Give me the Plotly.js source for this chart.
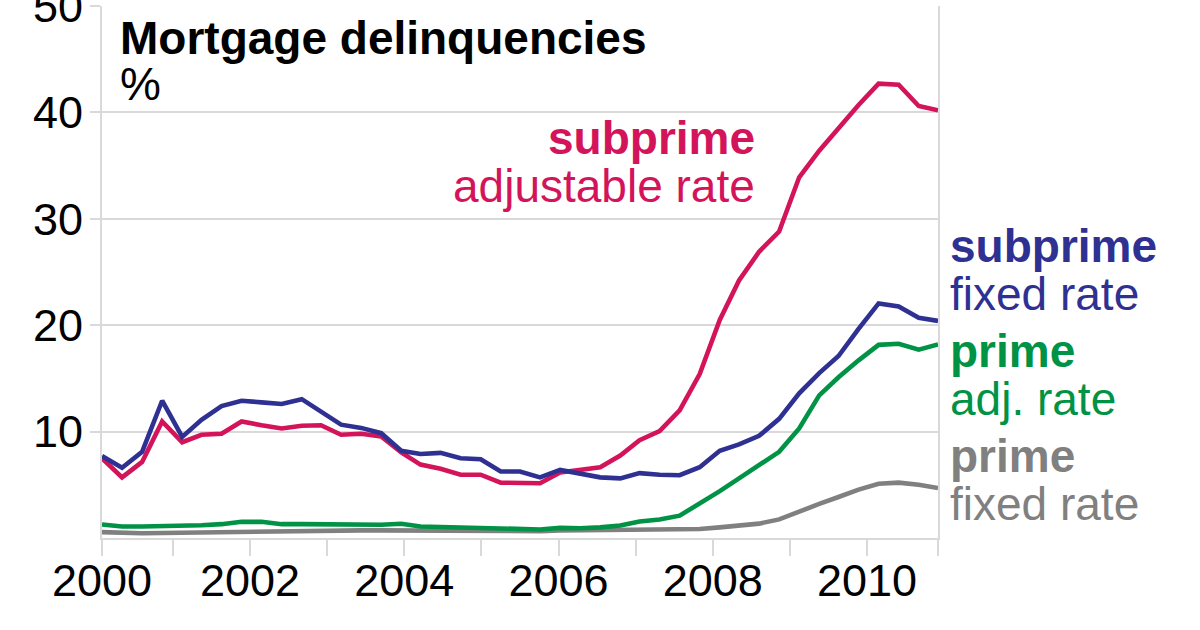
<!DOCTYPE html>
<html>
<head>
<meta charset="utf-8">
<script src="https://cdn.plot.ly/plotly-3.0.1.min.js"></script>
<style>
  html, body { margin: 0; padding: 0; background: #fff; }
  #chart { width: 1200px; height: 630px; }
</style>
</head>
<body>
<div id="chart"></div>
<script>
const periods = [
  2000.08, 2000.34, 2000.60, 2000.86, 2001.12, 2001.37, 2001.63, 2001.89,
  2002.15, 2002.41, 2002.67, 2002.92, 2003.18, 2003.44, 2003.70, 2003.96,
  2004.21, 2004.47, 2004.73, 2004.99, 2005.25, 2005.50, 2005.76, 2006.02,
  2006.28, 2006.54, 2006.80, 2007.05, 2007.31, 2007.57, 2007.83, 2008.09,
  2008.34, 2008.60, 2008.86, 2009.12, 2009.38, 2009.63, 2009.89, 2010.15,
  2010.41, 2010.67, 2010.92
];

// Delinquency rates, %
const subprimeAdjustable = [
  7.5, 5.7, 7.15, 10.95, 9.0, 9.7, 9.8, 10.95, 10.6, 10.3,
  10.55, 10.6, 9.7, 9.8, 9.55, 8.05, 6.9, 6.5, 5.95, 5.95,
  5.2, 5.15, 5.15, 6.15, 6.35, 6.65, 7.75, 9.2, 10.05, 12.0,
  15.4, 20.5, 24.2, 26.9, 28.8, 33.9, 36.4, 38.5, 40.7, 42.7,
  42.6, 40.6, 40.2
];
const subprimeFixed = [
  7.7, 6.6, 8.1, 12.9, 9.5, 11.1, 12.4, 12.9, 12.75, 12.6,
  13.05, 11.9, 10.65, 10.35, 9.85, 8.2, 7.9, 8.0, 7.5, 7.4,
  6.25, 6.25, 5.7, 6.4, 6.0, 5.7, 5.6, 6.1, 5.95, 5.9,
  6.65, 8.2, 8.8, 9.6, 11.2, 13.6, 15.5, 17.1, 19.65, 22.05,
  21.75, 20.7, 20.4
];
const primeAdjustable = [
  1.27, 1.08, 1.08, 1.1, 1.13, 1.2, 1.3, 1.52, 1.52, 1.3,
  1.3, 1.27, 1.34, 1.3, 1.24, 1.34, 1.08, 1.04, 1.0, 0.98,
  0.9, 0.86, 0.8, 0.95, 0.92, 1.0, 1.18, 1.55, 1.74, 2.1,
  3.2, 4.4, 5.6, 6.9, 8.1, 10.3, 13.4, 15.1, 16.7, 18.15,
  18.25, 17.7, 18.2
];
const primeFixed = [
  0.55, 0.45, 0.45, 0.47, 0.5, 0.52, 0.55, 0.6, 0.65, 0.7,
  0.7, 0.72, 0.72, 0.72, 0.72, 0.7, 0.7, 0.68, 0.66, 0.66,
  0.64, 0.64, 0.64, 0.7, 0.72, 0.72, 0.72, 0.72, 0.72, 0.75,
  0.85, 1.0, 1.15, 1.35, 1.75, 2.5, 3.2, 3.85, 4.55, 5.1,
  5.2, 5.0, 4.7
];

// Axis ticks and labels
const xTickYears = [2000, 2002, 2004, 2006, 2008, 2010];
const xTickLabels = ['2000', '2002', '2004', '2006', '2008', '2010'];
const yTickValues = [10, 20, 30, 40, 50];
const yTickLabels = ['10', '20', '30', '40', '50'];

const title = 'Mortgage delinquencies';
const unit = '%';
const seriesLabels = [
  { bold: 'subprime', rest: 'adjustable rate' },
  { bold: 'subprime', rest: 'fixed rate' },
  { bold: 'prime', rest: 'adj. rate' },
  { bold: 'prime', rest: 'fixed rate' }
];

// ---------------------------------------------------------------
const FONT = '"Liberation Sans", Arial, Helvetica, sans-serif';
const C_RED = '#d4145a', C_BLUE = '#2e3192', C_GREEN = '#009245', C_GRAY = '#808080';
const GRID = '#d9d9d9';
const FS = 46;
const TICK_FS = 45;

const xRange = [periods[0], periods[periods.length - 1]];
const xTickVals = xTickYears.map(v => Math.max(v, xRange[0])).concat([xRange[1]]);
const xTickText = xTickLabels.concat(['']);

function lineTrace(y, color) {
  return {
    type: 'scatter', mode: 'lines', x: periods, y: y,
    line: { color: color, width: 4.6, shape: 'linear' },
    hoverinfo: 'skip', showlegend: false, cliponaxis: false
  };
}

const data = [
  lineTrace(primeFixed, C_GRAY),
  lineTrace(primeAdjustable, C_GREEN),
  lineTrace(subprimeAdjustable, C_RED),
  lineTrace(subprimeFixed, C_BLUE)
];

function ann(text, x, y, xanchor, color, bold) {
  return {
    xref: 'paper', yref: 'paper', x: x, y: y,
    xanchor: xanchor, yanchor: 'middle', showarrow: false,
    text: bold ? '<b>' + text + '</b>' : text,
    font: { family: FONT, size: FS, color: color }
  };
}

const annotations = [
  ann(title, 0.019, 0.9404, 'left', '#000000', true),
  ann(unit, 0.019, 0.8526, 'left', '#000000', false),
  ann(seriesLabels[0].bold, 0.783, 0.7511, 'right', C_RED, true),
  ann(seriesLabels[0].rest, 0.783, 0.6615, 'right', C_RED, false),
  ann(seriesLabels[1].bold, 1.012, 0.5487, 'left', C_BLUE, true),
  ann(seriesLabels[1].rest, 1.012, 0.4592, 'left', C_BLUE, false),
  ann(seriesLabels[2].bold, 1.012, 0.3508, 'left', C_GREEN, true),
  ann(seriesLabels[2].rest, 1.012, 0.2605, 'left', C_GREEN, false),
  ann(seriesLabels[3].bold, 1.012, 0.1534, 'left', C_GRAY, true),
  ann(seriesLabels[3].rest, 1.012, 0.0632, 'left', C_GRAY, false)
];

const layout = {
  width: 1200, height: 630,
  margin: { l: 102, r: 262, t: 6, b: 92, pad: 0 },
  paper_bgcolor: '#ffffff', plot_bgcolor: '#ffffff',
  font: { family: FONT, size: TICK_FS, color: '#000000' },
  showlegend: false,
  xaxis: {
    type: 'linear', range: xRange, fixedrange: true,
    showgrid: false, zeroline: false,
    showline: true, linecolor: GRID, linewidth: 2,
    tickmode: 'array', tickvals: xTickVals, ticktext: xTickText,
    ticks: 'outside', ticklen: 16, tickwidth: 2, tickcolor: GRID,
    tickfont: { family: FONT, size: TICK_FS, color: '#000000' },
    ticklabelstandoff: -14,
    ticklabeloverflow: 'allow',
    minor: { tickmode: 'linear', tick0: 2000, dtick: 1, ticks: 'outside', ticklen: 16, tickwidth: 2, tickcolor: GRID, showgrid: false }
  },
  yaxis: {
    range: [0, 50], fixedrange: true,
    showgrid: true, gridcolor: GRID, gridwidth: 2,
    zeroline: false,
    showline: true, linecolor: GRID, linewidth: 2, mirror: true,
    tickmode: 'array', tickvals: yTickValues, ticktext: yTickLabels,
    ticks: 'outside', ticklen: 10, tickwidth: 2, tickcolor: GRID,
    tickfont: { family: FONT, size: TICK_FS, color: '#000000' },
    ticklabelstandoff: -2,
    ticklabeloverflow: 'allow'
  },
  annotations: annotations
};

Plotly.newPlot('chart', data, layout, { staticPlot: true, displayModeBar: false });
</script>
</body>
</html>
